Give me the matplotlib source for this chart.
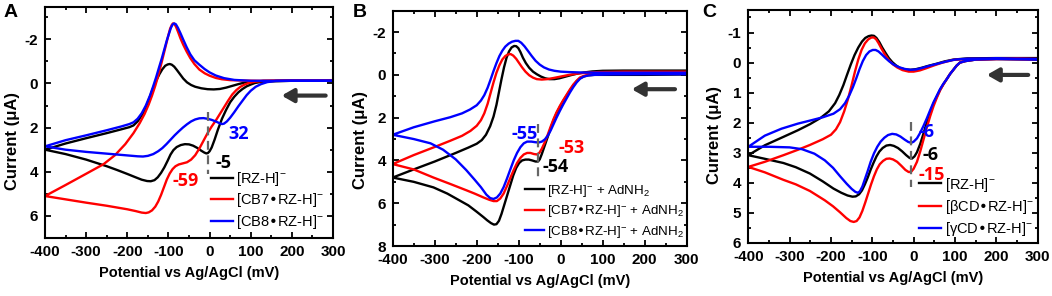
import matplotlib
matplotlib.use("Agg")
import matplotlib.pyplot as plt
from matplotlib.ticker import MultipleLocator

plt.rcParams['font.family'] = ['Liberation Sans', 'DejaVu Sans']
plt.rcParams['axes.unicode_minus'] = False
plt.rcParams['mathtext.default'] = 'regular'

# CV loops: E in mV, I in uA, sweep 300 -> -400 -> 300
# ---- panel A: RZ-H with cucurbiturils
A_RZ_E = [300, 200, 150, 125, 110, 100, 90, 80, 70, 60, 50, 40, 30, 20, 12, 5, 0, -4, -8, -13, -20, -30, -40, -50, -60, -70, -80, -88, -95, -102,
          -110, -118, -126, -134, -143, -152, -165, -180, -200, -225, -250, -300, -350, -400,
          -350, -300, -250, -215, -195, -185, -175, -165, -155, -145, -137, -130, -122, -115, -108, -102, -97, -92, -86, -80, -72, -64, -55, -45,
          -35, -20, -5, 10, 25, 40, 55, 70, 85, 100, 130, 200, 300]
A_RZ_I = [-0.12, -0.12, -0.1, -0.07, -0.02, 0.05, 0.13, 0.25, 0.4, 0.6, 0.85, 1.2, 1.6, 2.1, 2.55, 2.9, 3.07, 3.15, 3.17, 3.13, 3.05, 2.92, 2.82, 2.76, 2.75, 2.79, 2.88, 3.02, 3.22, 3.5,
          3.8, 4.05, 4.25, 4.38, 4.43, 4.42, 4.36, 4.25, 4.1, 3.92, 3.75, 3.45, 3.2, 3.0,
          2.72, 2.48, 2.25, 2.08, 1.98, 1.9, 1.72, 1.45, 1.08, 0.6, 0.2, -0.12, -0.42, -0.64, -0.8, -0.86, -0.88, -0.85, -0.76, -0.62, -0.42, -0.22, -0.05, 0.07,
          0.15, 0.22, 0.26, 0.27, 0.25, 0.19, 0.11, 0.03, -0.04, -0.08, -0.11, -0.12, -0.12]

A_CB7_E = [300, 200, 130, 110, 95, 85, 75, 65, 55, 45, 35, 25, 15, 5, -5, -15, -25, -35, -45, -55, -65, -75, -83, -90, -97, -104, -111, -118, -125, -132,
           -140, -148, -155, -165, -180, -200, -250, -300, -350, -400,
           -350, -300, -258, -230, -205, -185, -170, -158, -148, -140, -132, -125, -118, -112, -106, -100, -96, -92, -89, -86, -82, -77, -71, -64,
           -56, -47, -37, -25, -12, 0, 15, 30, 50, 80, 120, 200, 300]
A_CB7_I = [-0.15, -0.13, -0.11, -0.08, -0.02, 0.05, 0.15, 0.3, 0.5, 0.78, 1.08, 1.38, 1.68, 1.95, 2.25, 2.6, 2.95, 3.25, 3.45, 3.57, 3.62, 3.67, 3.75, 3.88, 4.08, 4.35, 4.7, 5.05, 5.35, 5.58,
           5.75, 5.84, 5.87, 5.85, 5.78, 5.7, 5.54, 5.4, 5.25, 5.1,
           4.6, 4.09, 3.66, 3.25, 2.75, 2.25, 1.8, 1.38, 0.95, 0.55, 0.1, -0.35, -0.85, -1.3, -1.75, -2.2, -2.48, -2.65, -2.72, -2.7, -2.58, -2.35, -2.05, -1.75,
           -1.45, -1.15, -0.88, -0.63, -0.46, -0.35, -0.25, -0.19, -0.15, -0.13, -0.12, -0.12, -0.12]

A_CB8_E = [300, 200, 160, 140, 125, 112, 100, 90, 80, 70, 60, 50, 42, 35, 30, 24, 15, 5, -5, -15, -25, -35, -45, -55, -65, -75, -85, -95, -105, -115,
           -125, -137, -150, -162, -175, -200, -250, -300, -350, -400,
           -350, -300, -250, -215, -195, -185, -175, -165, -155, -145, -137, -130, -123, -116, -110, -104, -98, -94, -90, -86, -82, -77, -71, -64,
           -56, -47, -37, -25, -12, 0, 15, 35, 60, 100, 200, 300]
A_CB8_I = [-0.12, -0.12, -0.11, -0.06, 0.03, 0.15, 0.33, 0.53, 0.78, 1.03, 1.3, 1.55, 1.72, 1.82, 1.84, 1.8, 1.72, 1.65, 1.6, 1.57, 1.58, 1.63, 1.72, 1.85, 2.0, 2.17, 2.35, 2.55, 2.75, 2.93,
           3.07, 3.2, 3.28, 3.31, 3.3, 3.26, 3.18, 3.1, 3.0, 2.85,
           2.57, 2.35, 2.12, 1.95, 1.84, 1.76, 1.6, 1.35, 1.0, 0.55, 0.12, -0.28, -0.72, -1.15, -1.55, -1.95, -2.3, -2.52, -2.67, -2.72, -2.68, -2.52, -2.28, -1.98,
           -1.65, -1.32, -1.05, -0.85, -0.65, -0.5, -0.36, -0.24, -0.16, -0.12, -0.12, -0.12]

# ---- panel B: + AdNH2
B_RZ_E = [300, 200, 120, 80, 65, 55, 46, 38, 30, 22, 14, 6, -2, -10, -17, -24, -31, -38, -45, -50, -54, -60, -68, -76, -84, -92, -99, -106, -113, -120,
          -127, -134, -141, -147, -153, -159, -166, -175, -184, -200, -220, -240, -270, -303, -350, -400,
          -350, -300, -250, -220, -200, -188, -178, -168, -160, -153, -147, -141, -135, -129, -123, -117, -111, -106, -101, -96, -90, -83, -75, -66,
          -57, -47, -37, -27, -15, -3, 10, 25, 40, 55, 75, 100, 150, 200, 300]
B_RZ_I = [-0.02, 0.0, 0.0, 0.0, 0.02, 0.07, 0.15, 0.3, 0.5, 0.72, 0.97, 1.22, 1.5, 1.8, 2.12, 2.5, 2.9, 3.3, 3.7, 3.95, 4.05, 4.05, 4.0, 3.96, 3.96, 4.0, 4.12, 4.35, 4.7, 5.15,
          5.6, 6.05, 6.5, 6.82, 6.98, 7.0, 6.93, 6.8, 6.65, 6.4, 6.1, 5.88, 5.55, 5.26, 5.0, 4.8,
          4.42, 4.05, 3.65, 3.4, 3.22, 3.05, 2.8, 2.4, 1.95, 1.4, 0.8, 0.2, -0.35, -0.8, -1.1, -1.28, -1.35, -1.34, -1.25, -1.07, -0.8, -0.55, -0.33, -0.15,
          -0.03, 0.08, 0.16, 0.2, 0.2, 0.16, 0.09, 0.01, -0.06, -0.11, -0.16, -0.19, -0.2, -0.2, -0.2]

B_CB7_E = [300, 200, 120, 80, 65, 55, 46, 38, 30, 22, 14, 6, -2, -10, -17, -24, -31, -38, -45, -51, -57, -64, -72, -80, -88, -96, -104, -112, -120, -128,
           -136, -144, -152, -160, -170, -184, -205, -224, -263, -303, -350, -400,
           -350, -300, -263, -235, -215, -200, -190, -182, -174, -167, -160, -153, -146, -139, -132, -125, -119, -113, -106, -99, -92, -84, -75, -66,
           -57, -45, -32, -18, 0, 20, 40, 60, 90, 150, 300]
B_CB7_I = [-0.08, -0.08, -0.06, -0.03, 0.0, 0.05, 0.12, 0.27, 0.45, 0.68, 0.93, 1.18, 1.45, 1.75, 2.06, 2.42, 2.8, 3.15, 3.45, 3.65, 3.72, 3.7, 3.65, 3.65, 3.72, 3.88, 4.12, 4.45, 4.82, 5.2,
           5.55, 5.78, 5.9, 5.9, 5.84, 5.73, 5.55, 5.4, 5.1, 4.8, 4.42, 4.17,
           3.75, 3.37, 3.08, 2.85, 2.62, 2.38, 2.12, 1.8, 1.35, 0.85, 0.35, -0.1, -0.45, -0.72, -0.88, -0.96, -0.97, -0.9, -0.75, -0.55, -0.35, -0.15, 0.02, 0.13,
           0.2, 0.22, 0.2, 0.15, 0.08, 0.0, -0.06, -0.1, -0.13, -0.15, -0.15]

B_CB8_E = [300, 200, 120, 80, 65, 55, 46, 38, 30, 22, 14, 6, -2, -10, -17, -24, -31, -38, -45, -52, -60, -70, -80, -88, -96, -104, -112, -120, -128, -136,
           -144, -152, -160, -168, -177, -190, -205, -225, -250, -280, -310, -350, -400,
           -350, -300, -263, -235, -216, -200, -190, -182, -174, -167, -160, -153, -146, -139, -132, -124, -116, -108, -101, -94, -86, -78, -69, -60,
           -50, -40, -28, -15, 0, 20, 50, 100, 200, 300]
B_CB8_I = [-0.03, -0.03, -0.02, 0.0, 0.03, 0.08, 0.18, 0.35, 0.57, 0.82, 1.1, 1.38, 1.68, 2.0, 2.3, 2.6, 2.85, 3.02, 3.12, 3.16, 3.15, 3.12, 3.12, 3.2, 3.38, 3.65, 4.0, 4.42, 4.85, 5.25,
           5.55, 5.73, 5.8, 5.76, 5.6, 5.25, 4.9, 4.45, 3.95, 3.5, 3.2, 3.0, 2.8,
           2.45, 2.17, 1.98, 1.8, 1.62, 1.42, 1.2, 0.95, 0.6, 0.22, -0.18, -0.55, -0.88, -1.13, -1.32, -1.46, -1.55, -1.59, -1.59, -1.5, -1.33, -1.12, -0.88, -0.66,
           -0.48, -0.35, -0.25, -0.19, -0.15, -0.13, -0.11, -0.1, -0.1, -0.1]

# ---- panel C: RZ-H with cyclodextrins
C_RZ_E = [300, 200, 150, 125, 112, 104, 96, 88, 80, 72, 64, 56, 48, 40, 32, 24, 16, 8, 2, -4, -10, -18, -28, -38, -48, -57, -66, -75, -83, -90,
          -97, -104, -111, -118, -125, -132, -140, -148, -160, -175, -194, -220, -251, -285, -315, -360, -400,
          -360, -315, -280, -251, -225, -205, -190, -180, -170, -161, -152, -143, -134, -125, -117, -109, -102, -96, -90, -83, -76, -68, -60, -52,
          -43, -33, -20, -8, 5, 20, 35, 55, 75, 96, 130, 200, 300]
C_RZ_I = [-0.1, -0.12, -0.1, -0.05, 0.0, 0.1, 0.24, 0.38, 0.55, 0.72, 0.9, 1.13, 1.36, 1.65, 1.98, 2.35, 2.7, 2.98, 3.12, 3.19, 3.17, 3.08, 2.95, 2.84, 2.77, 2.74, 2.76, 2.84, 2.96, 3.12,
          3.33, 3.56, 3.82, 4.05, 4.25, 4.38, 4.45, 4.46, 4.42, 4.33, 4.19, 3.95, 3.69, 3.48, 3.34, 3.2, 3.08,
          2.75, 2.47, 2.25, 2.05, 1.84, 1.62, 1.35, 1.08, 0.75, 0.4, 0.06, -0.25, -0.5, -0.7, -0.82, -0.88, -0.9, -0.89, -0.82, -0.68, -0.5, -0.32, -0.15, -0.02,
          0.09, 0.18, 0.23, 0.24, 0.22, 0.17, 0.11, 0.04, -0.04, -0.1, -0.14, -0.15, -0.15]

C_BCD_E = [300, 200, 150, 125, 112, 104, 96, 88, 80, 72, 64, 56, 48, 40, 32, 24, 16, 8, 0, -6, -12, -20, -30, -40, -50, -58, -66, -74, -82, -89,
           -96, -103, -110, -117, -124, -131, -138, -145, -153, -163, -178, -195, -215, -251, -285, -315, -360, -400,
           -360, -315, -280, -251, -220, -200, -188, -178, -168, -159, -150, -142, -134, -126, -118, -110, -103, -97, -91, -85, -78, -70, -61, -51,
           -40, -27, -12, 0, 15, 30, 50, 70, 96, 130, 200, 250, 300]
C_BCD_I = [-0.1, -0.12, -0.1, -0.05, 0.0, 0.1, 0.24, 0.38, 0.55, 0.72, 0.92, 1.17, 1.45, 1.78, 2.15, 2.55, 2.95, 3.3, 3.53, 3.63, 3.64, 3.57, 3.43, 3.3, 3.22, 3.19, 3.2, 3.27, 3.38, 3.55,
           3.78, 4.05, 4.35, 4.65, 4.93, 5.15, 5.27, 5.3, 5.27, 5.17, 4.98, 4.78, 4.58, 4.27, 4.05, 3.9, 3.65, 3.47,
           3.3, 3.08, 2.9, 2.74, 2.55, 2.4, 2.22, 1.98, 1.62, 1.22, 0.75, 0.3, -0.1, -0.42, -0.64, -0.77, -0.83, -0.84, -0.78, -0.65, -0.47, -0.28, -0.1, 0.05,
           0.16, 0.25, 0.3, 0.3, 0.26, 0.19, 0.09, 0.0, -0.09, -0.12, -0.12, -0.14, -0.12]

C_GCD_E = [300, 200, 150, 125, 112, 104, 96, 88, 80, 72, 64, 56, 48, 40, 32, 24, 16, 8, 0, -6, -13, -22, -32, -42, -52, -62, -71, -80, -88, -96,
           -104, -111, -118, -124, -130, -135, -141, -150, -162, -178, -195, -215, -240, -270, -300, -350, -400,
           -360, -320, -280, -251, -220, -194, -178, -166, -156, -147, -139, -131, -123, -115, -107, -99, -92, -85, -77, -68, -59, -48,
           -36, -22, -8, 5, 20, 40, 60, 80, 100, 130, 200, 300]
C_GCD_I = [-0.1, -0.12, -0.1, -0.05, 0.0, 0.1, 0.24, 0.38, 0.55, 0.7, 0.88, 1.1, 1.32, 1.58, 1.85, 2.1, 2.33, 2.52, 2.63, 2.67, 2.64, 2.56, 2.46, 2.39, 2.37, 2.41, 2.5, 2.63, 2.8, 3.02,
           3.3, 3.6, 3.88, 4.12, 4.28, 4.33, 4.3, 4.2, 4.03, 3.78, 3.5, 3.25, 3.03, 2.88, 2.82, 2.8, 2.8,
           2.43, 2.2, 2.03, 1.93, 1.82, 1.7, 1.55, 1.35, 1.1, 0.82, 0.53, 0.22, -0.05, -0.25, -0.37, -0.42, -0.42, -0.37, -0.27, -0.15, -0.04, 0.07,
           0.15, 0.21, 0.24, 0.23, 0.18, 0.1, 0.03, -0.04, -0.1, -0.13, -0.14, -0.12]

A_LABELS = ['[RZ-H]$^{-}$', '[CB7\u2022RZ-H]$^{-}$', '[CB8\u2022RZ-H]$^{-}$']
B_LABELS = ['[RZ-H]$^{-}$ + AdNH$_2$', '[CB7\u2022RZ-H]$^{-}$ + AdNH$_2$', '[CB8\u2022RZ-H]$^{-}$ + AdNH$_2$']
C_LABELS = ['[RZ-H]$^{-}$', '[\u03b2CD\u2022RZ-H]$^{-}$', '[\u03b3CD\u2022RZ-H]$^{-}$']

# peak potentials written next to the curves, and the dashed marker
A_PEAKS = ['32', '-5', '-59']
B_PEAKS = ['-55', '-53', '-54']
C_PEAKS = ['-6', '-6', '-15']
A_MARK = -5
B_MARK = -53
C_MARK = -7

colors = ['black', '#ff0000', '#0000ff']
peak_font = dict(fontsize=13, fontweight='bold', family='Open Sans', va='center')


def style_axes(ax, ylim, ymaj, ymin, ylab_pos):
    ax.set_xlim(-400, 300)
    ax.set_ylim(*ylim)
    ax.xaxis.set_major_locator(MultipleLocator(100))
    ax.xaxis.set_minor_locator(MultipleLocator(50))
    ax.yaxis.set_major_locator(MultipleLocator(ymaj))
    ax.yaxis.set_minor_locator(MultipleLocator(ymin))
    ax.tick_params(which='both', direction='in', top=True, right=True, width=1.3)
    ax.tick_params(which='major', length=4, labelsize=11, pad=5)
    ax.tick_params(which='minor', length=2.2)
    for lab in ax.get_xticklabels() + ax.get_yticklabels():
        lab.set_fontweight('bold')
    for s in ax.spines.values():
        s.set_linewidth(1.5)
    ax.set_xlabel('Potential vs Ag/AgCl (mV)', fontsize=10.5, fontweight='bold', labelpad=5)
    ax.set_ylabel('Current (\u03bcA)', fontsize=12, fontweight='bold')
    ax.yaxis.set_label_coords(*ylab_pos)


def draw_arrow(ax, x0, x1, y):
    ax.annotate('', xy=(x1, y), xytext=(x0, y),
                arrowprops=dict(arrowstyle='-|>,head_length=0.7,head_width=0.4',
                                color='#333333', lw=3, shrinkA=0, shrinkB=0))


def draw_curves(ax, Es, Is, labels):
    for E, I, c, lab in zip(Es, Is, colors, labels):
        ax.plot(E, I, color=c, lw=1.7, label=lab, solid_joinstyle='round')


fig = plt.figure(figsize=(10.52, 2.96), dpi=100)
axA = fig.add_axes([0.0428, 0.196, 0.2738, 0.7794])
axB = fig.add_axes([0.3733, 0.1689, 0.2795, 0.795])
axC = fig.add_axes([0.7113, 0.1791, 0.2751, 0.7872])

# A
draw_curves(axA, [A_RZ_E, A_CB7_E, A_CB8_E], [A_RZ_I, A_CB7_I, A_CB8_I], A_LABELS)
style_axes(axA, (7, -3.45), 2, 1, (-0.088, 0.42))
axA.plot([A_MARK, A_MARK], [1.3, 4.1], ls=(0, (4, 2.5)), color='#666666', lw=1.6)
axA.text(45, 2.3, A_PEAKS[0], color='#0000ff', **peak_font)
axA.text(15, 3.6, A_PEAKS[1], color='black', **peak_font)
axA.text(-90, 4.4, A_PEAKS[2], color='#ff0000', **peak_font)
draw_arrow(axA, 282, 175, 0.55)
axA.legend(loc='lower left', bbox_to_anchor=(0.575, 0.03), frameon=False, fontsize=10.5,
           handlelength=1.5, handletextpad=0.25, labelspacing=0.25, borderpad=0, borderaxespad=0)

# B
draw_curves(axB, [B_RZ_E, B_CB7_E, B_CB8_E], [B_RZ_I, B_CB7_I, B_CB8_I], B_LABELS)
style_axes(axB, (8, -3.0), 2, 1, (-0.084, 0.45))
axB.plot([B_MARK, B_MARK], [2.3, 4.95], ls=(0, (4, 2.5)), color='#666666', lw=1.6)
axB.text(-117, 2.77, B_PEAKS[0], color='#0000ff', **peak_font)
axB.text(-6, 3.4, B_PEAKS[1], color='#ff0000', **peak_font)
axB.text(-43, 4.33, B_PEAKS[2], color='black', **peak_font)
draw_arrow(axB, 272, 169, 0.67)
axB.legend(loc='lower left', bbox_to_anchor=(0.45, 0.025), frameon=False, fontsize=9.6,
           handlelength=1.4, handletextpad=0.25, labelspacing=0.35, borderpad=0, borderaxespad=0)

# C
draw_curves(axC, [C_RZ_E, C_BCD_E, C_GCD_E], [C_RZ_I, C_BCD_I, C_GCD_I], C_LABELS)
style_axes(axC, (6, -1.75), 1, 0.5, (-0.091, 0.465))
axC.plot([C_MARK, C_MARK], [1.97, 4.13], ls=(0, (4, 2.5)), color='#666666', lw=1.6)
axC.text(11, 2.3, C_PEAKS[0], color='#0000ff', **peak_font)
axC.text(22, 3.08, C_PEAKS[1], color='black', **peak_font)
axC.text(11, 3.74, C_PEAKS[2], color='#ff0000', **peak_font)
draw_arrow(axC, 277, 177, 0.41)
axC.legend(loc='lower left', bbox_to_anchor=(0.59, 0.02), frameon=False, fontsize=10.5,
           handlelength=1.5, handletextpad=0.25, labelspacing=0.3, borderpad=0, borderaxespad=0)

# panel letters
fig.text(0.003, 0.985, 'A', fontsize=14, fontweight='bold', va='top')
fig.text(0.335, 0.985, 'B', fontsize=14, fontweight='bold', va='top')
fig.text(0.668, 0.985, 'C', fontsize=14, fontweight='bold', va='top')

fig.savefig('out.png', dpi=100)
